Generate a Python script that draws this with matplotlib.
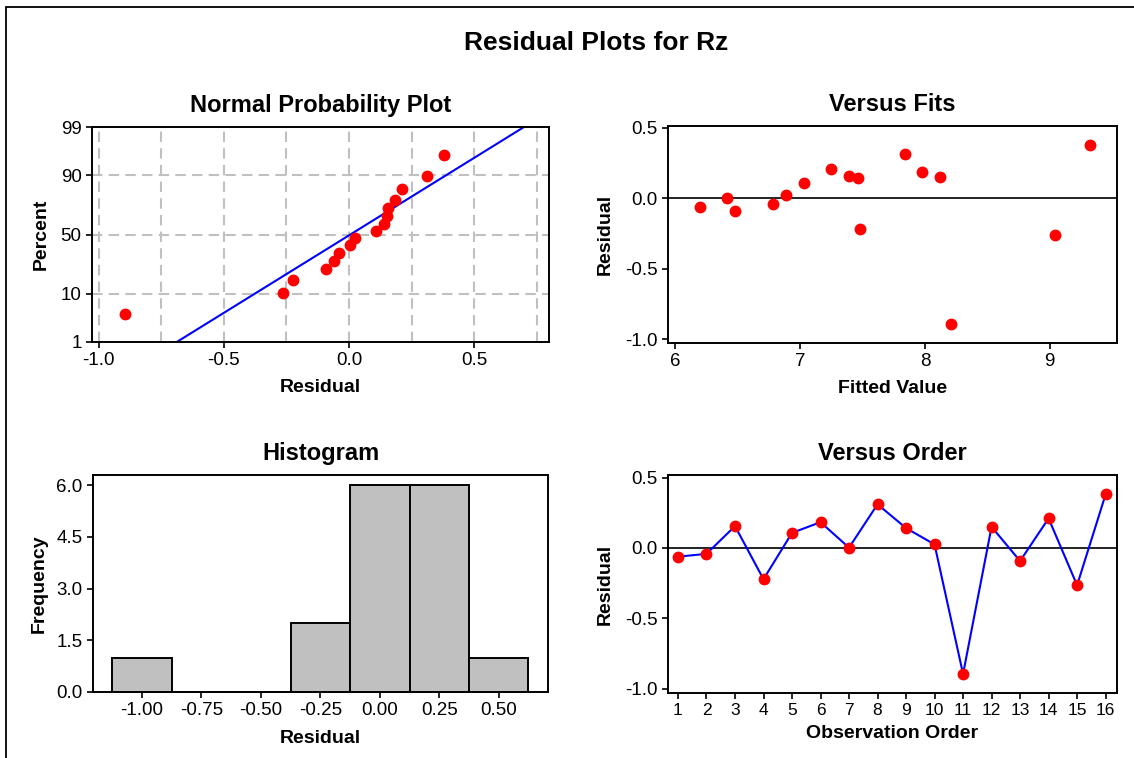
"""Minitab-style four-in-one residual plot for Rz."""
from statistics import NormalDist

import numpy as np
import matplotlib
matplotlib.use("Agg")
import matplotlib.pyplot as plt
from matplotlib.patches import Rectangle

plt.rcParams["font.family"] = ["Liberation Sans", "DejaVu Sans"]
plt.rcParams["axes.unicode_minus"] = False

# residuals / fits in observation order
order = list(range(1, 17))
residuals = [-0.062, -0.042, 0.155, -0.222, 0.107, 0.183, 0.002, 0.31,
             0.141, 0.025, -0.895, 0.15, -0.093, 0.21, -0.265, 0.38]
fitted = [6.20, 6.78, 7.39, 7.48, 7.03, 7.98, 6.41, 7.84,
          7.46, 6.89, 8.21, 8.12, 6.48, 7.25, 9.04, 9.32]

pct_ticks = [1, 10, 50, 90, 99]
npp_xticks = [-1.0, -0.5, 0.0, 0.5]
hist_xticks = [-1.00, -0.75, -0.50, -0.25, 0.00, 0.25, 0.50]
hist_yticks = [0.0, 1.5, 3.0, 4.5, 6.0]
fit_xticks = [6, 7, 8, 9]
res_yticks = [-1.0, -0.5, 0.0, 0.5]

W, H = 1134, 758
TICK_FS = 13.5
LAB_FS = 14
TTL_FS = 17
MS = 7.5


def px_axes(fig, left, right, top, bottom):
    return fig.add_axes([left / W, 1 - bottom / H, (right - left) / W, (bottom - top) / H])


def style(ax):
    for s in ax.spines.values():
        s.set_linewidth(1.4)
        s.set_color("black")
    ax.tick_params(direction="out", length=4, width=1.2, labelsize=TICK_FS, color="black")


fig = plt.figure(figsize=(W / 100, H / 100), dpi=100)

# outer frame (runs off the right/bottom edge like the source)
fig.add_artist(Rectangle((6 / W, -0.1), 1.2, 1 - 7 / H + 0.1, transform=fig.transFigure,
                         fill=False, lw=1.3, ec="black", clip_on=False))
fig.text(596 / W, 1 - 43 / H, "Residual Plots for Rz", ha="center", va="center",
         fontsize=19, fontweight="bold")

nd = NormalDist()
res = np.asarray(residuals)
n = len(res)

# ---- normal probability plot ----
ax = px_axes(fig, 92, 549, 127, 342)
style(ax)
zlo, zhi = nd.inv_cdf(0.01), nd.inv_cdf(0.99)
for gx in np.arange(-1.0, 0.76, 0.25):
    ax.axvline(gx, color="#c0c0c0", lw=1.5, ls=(0, (5, 3)), zorder=0)
for p in pct_ticks[1:-1]:
    ax.axhline(nd.inv_cdf(p / 100), color="#c0c0c0", lw=1.5, ls=(0, (5, 3)), zorder=0)
r_sorted = np.sort(res)
pos = (np.arange(1, n + 1) - 0.3) / (n + 0.4)   # Benard median ranks
zs = [nd.inv_cdf(p) for p in pos]
mu, sd = res.mean(), res.std(ddof=1)
ax.plot([mu + sd * zlo, mu + sd * zhi], [zlo, zhi], color="blue", lw=1.5, zorder=2)
ax.plot(r_sorted, zs, "o", color="red", ms=MS, zorder=3)
ax.set_xlim(-1.026, 0.798)
ax.set_ylim(zlo, zhi)
ax.set_xticks(npp_xticks)
ax.set_xticklabels([f"{t:.1f}" for t in npp_xticks])
ax.set_yticks([nd.inv_cdf(p / 100) for p in pct_ticks])
ax.set_yticklabels([str(p) for p in pct_ticks])
ax.set_title("Normal Probability Plot", fontsize=TTL_FS, fontweight="bold", pad=11)
ax.set_xlabel("Residual", fontsize=LAB_FS, fontweight="bold")
ax.set_ylabel("Percent", fontsize=LAB_FS, fontweight="bold")
ax.xaxis.set_label_coords(0.5, -0.172)
ax.yaxis.set_label_coords(-0.092, 0.5)

# ---- versus fits ----
ax = px_axes(fig, 668, 1117, 126, 343)
style(ax)
ax.axhline(0, color="#222222", lw=1.4, zorder=1)
ax.plot(fitted, residuals, "o", color="red", ms=MS, zorder=3)
ax.set_xlim(5.94, 9.54)
ax.set_ylim(-1.028, 0.512)
ax.set_xticks(fit_xticks)
ax.set_yticks(res_yticks)
ax.set_yticklabels([f"{t:.1f}" for t in res_yticks])
ax.set_title("Versus Fits", fontsize=TTL_FS, fontweight="bold", pad=11)
ax.set_xlabel("Fitted Value", fontsize=LAB_FS, fontweight="bold")
ax.set_ylabel("Residual", fontsize=LAB_FS, fontweight="bold")
ax.xaxis.set_label_coords(0.5, -0.172)
ax.yaxis.set_label_coords(-0.12, 0.5)

# ---- histogram ----
ax = px_axes(fig, 93, 548, 475, 692)
style(ax)
edges = np.arange(-1.125, 0.626, 0.25)
_, _, patches = ax.hist(res, bins=edges, color="#c0c0c0", edgecolor="black", linewidth=1.4)
for pt in patches:
    pt.set_clip_on(False)
ax.set_xlim(-1.206, 0.707)
ax.set_ylim(0, 6.29)
ax.set_xticks(hist_xticks)
ax.set_xticklabels([f"{t:.2f}" for t in hist_xticks])
ax.set_yticks(hist_yticks)
ax.set_yticklabels([f"{t:.1f}" for t in hist_yticks])
ax.set_title("Histogram", fontsize=TTL_FS, fontweight="bold", pad=11)
ax.set_xlabel("Residual", fontsize=LAB_FS, fontweight="bold")
ax.set_ylabel("Frequency", fontsize=LAB_FS, fontweight="bold")
ax.xaxis.set_label_coords(0.5, -0.175)
ax.yaxis.set_label_coords(-0.099, 0.5)

# ---- versus order ----
ax = px_axes(fig, 668, 1117, 475, 693)
style(ax)
ax.axhline(0, color="#222222", lw=1.4, zorder=1)
ax.plot(order, residuals, "-", color="blue", lw=1.5, zorder=2)
ax.plot(order, residuals, "o", color="red", ms=MS, zorder=3)
ax.set_xlim(0.65, 16.4)
ax.set_ylim(-1.03, 0.518)
ax.set_xticks(order)
ax.tick_params(axis="x", labelsize=12.5)
ax.set_yticks(res_yticks)
ax.set_yticklabels([f"{t:.1f}" for t in res_yticks])
ax.set_title("Versus Order", fontsize=TTL_FS, fontweight="bold", pad=11)
ax.set_xlabel("Observation Order", fontsize=LAB_FS, fontweight="bold")
ax.set_ylabel("Residual", fontsize=LAB_FS, fontweight="bold")
ax.xaxis.set_label_coords(0.5, -0.145)
ax.yaxis.set_label_coords(-0.12, 0.5)

fig.savefig("out.png", dpi=100)
